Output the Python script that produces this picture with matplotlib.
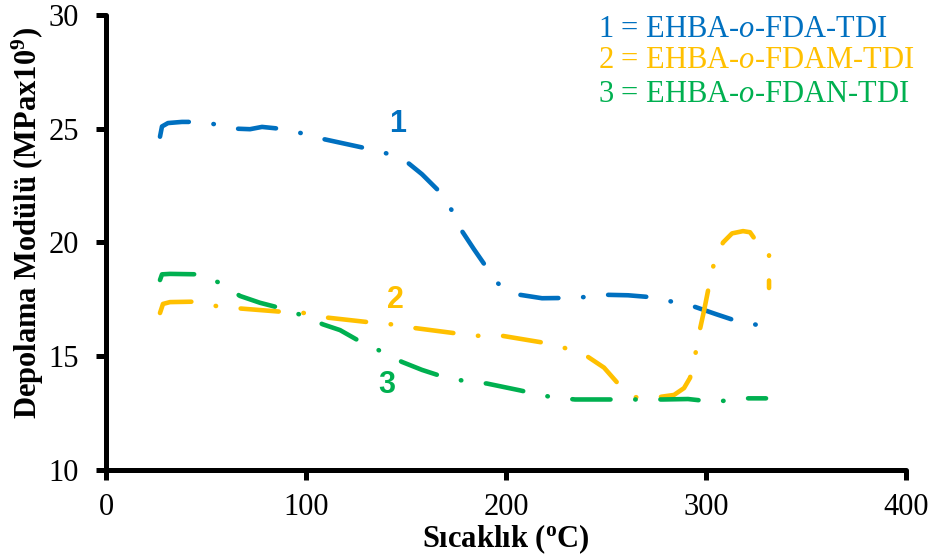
import matplotlib
matplotlib.use("Agg")
import matplotlib.pyplot as plt

plt.rcParams["font.family"] = ["Liberation Serif", "DejaVu Serif"]
plt.rcParams["mathtext.fontset"] = "custom"
plt.rcParams["mathtext.rm"] = "Liberation Serif"
plt.rcParams["mathtext.it"] = "Liberation Serif:italic"
plt.rcParams["mathtext.bf"] = "Liberation Serif:bold"
plt.rcParams["lines.scale_dashes"] = False

# Storage modulus vs temperature for the three polymers
t1 = [27, 28, 31, 38, 43.5, 54.5, 66, 72, 78, 87, 98, 108.5, 119, 129.5, 141,
      151, 158, 166, 173, 178, 184, 189.5, 196, 202, 207, 218, 228, 239, 250.5,
      261, 272, 283, 293.5, 305, 317, 330]
e1 = [24.65, 25.1, 25.25, 25.3, 25.3, 25.2, 25.0, 24.98, 25.08, 25.0, 24.8,
      24.55, 24.35, 24.15, 23.9, 23.5, 23.0, 22.3, 21.4, 20.5, 19.7, 19.0, 18.2,
      17.85, 17.7, 17.55, 17.56, 17.6, 17.7, 17.68, 17.6, 17.4, 17.2, 16.85,
      16.5, 16.32]

t2 = [27, 28.5, 32, 44.5, 55.5, 67, 88.5, 99.5, 110.5, 131, 143, 153.5, 175.5,
      186, 198, 218.5, 229.5, 240.5, 249, 256, 264.5, 276, 284, 289, 292,
      294.5, 296.5, 299, 301.5, 304, 308.5, 313, 318.5, 322, 324, 331.5, 331.5]
e2 = [16.9, 17.3, 17.38, 17.4, 17.2, 17.1, 16.95, 16.9, 16.7, 16.5, 16.4,
      16.25, 16.0, 15.9, 15.9, 15.6, 15.36, 15.0, 14.5, 13.8, 13.2, 13.2, 13.3,
      13.6, 14.05, 15.0, 16.0, 17.0, 18.1, 19.1, 20.0, 20.4, 20.5, 20.45, 20.2,
      19.6, 18.0]

t3 = [27, 28, 32, 47, 57.5, 67, 77, 88, 98, 108.5, 117, 128, 138, 148, 158,
      168.5, 180, 190.5, 207, 212, 223, 234.5, 255.5, 267, 278.5, 291, 303.5,
      310, 318, 330]
e3 = [18.35, 18.6, 18.62, 18.6, 18.2, 17.65, 17.35, 17.1, 16.8, 16.4, 16.15,
      15.6, 15.2, 14.75, 14.4, 14.1, 13.9, 13.8, 13.5, 13.4, 13.2, 13.1, 13.1,
      13.1, 13.1, 13.12, 13.0, 13.05, 13.15, 13.15]

series = [
    (t1, e1, "#0070C0", "1", "1 = EHBA-$\\mathit{o}$-FDA-TDI", (146, 24.86)),
    (t2, e2, "#FFC000", "2", "2 = EHBA-$\\mathit{o}$-FDAM-TDI", (144.5, 17.12)),
    (t3, e3, "#00B050", "3", "3 = EHBA-$\\mathit{o}$-FDAN-TDI", (140.5, 13.38)),
]

fig = plt.figure(figsize=(9.33, 5.59), dpi=100)
ax = fig.add_axes([0.1136, 0.1592, 0.8575, 0.814])

dash = (0, (27.5, 17.8, 0.3, 17.8))
legend_y = [29.03, 27.67, 26.18]
for (x, y, c, tag, name, pos), ly in zip(series, legend_y):
    ax.plot(x, y, color=c, lw=3.3, linestyle=dash, dash_capstyle="round",
            solid_capstyle="round")
    ax.text(pos[0], pos[1], tag, color=c, fontsize=22, fontweight="bold",
            family=["Liberation Sans", "DejaVu Sans"], ha="center",
            va="baseline")
    ax.text(246, ly, name, color=c, fontsize=22, ha="left", va="baseline")

ax.set_xlim(0, 400)
ax.set_ylim(10, 30)
ax.set_xticks([0, 100, 200, 300, 400])
ax.set_yticks([10, 15, 20, 25, 30])
for s in ("top", "right"):
    ax.spines[s].set_visible(False)
for s in ("left", "bottom"):
    ax.spines[s].set_linewidth(3.6)
    ax.spines[s].set_capstyle("round")
ax.tick_params(direction="out", length=7.5, width=3.6, labelsize=22)
ax.tick_params(axis="x", pad=9)
ax.tick_params(axis="y", pad=12)

ax.set_xlabel("Sıcaklık ($^{\\mathbf{o}}$C)", fontsize=22, fontweight="bold")
ax.set_ylabel("Depolama Modülü (MPax10$^{\\mathbf{9}}$)", fontsize=22,
              fontweight="bold")
ax.xaxis.label.set_verticalalignment("center")
ax.yaxis.label.set_verticalalignment("center")
ax.xaxis.set_label_coords(0.5, -0.152)
ax.yaxis.set_label_coords(-0.098, 0.542)

fig.savefig("out.png", dpi=100)
